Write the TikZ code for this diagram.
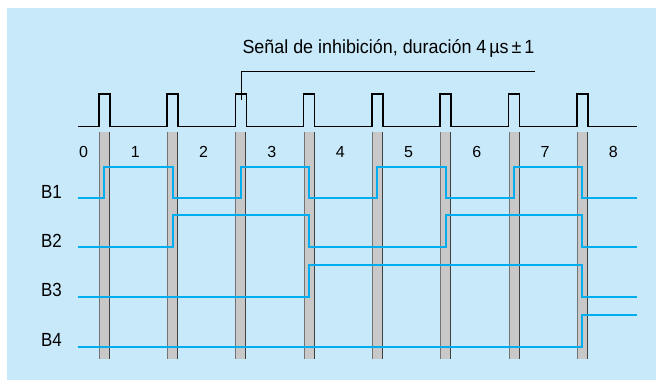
\documentclass[tikz,border=0pt]{standalone}
\usepackage{fontspec}
\setmainfont{Liberation Sans}
\definecolor{bgblue}{HTML}{C7E9F9}
\definecolor{sigblue}{HTML}{00AEEF}
\definecolor{bargray}{HTML}{C8C8C8}
\newcommand{\narrow}[1]{\scalebox{0.89}[1]{#1}}
\begin{document}
\begin{tikzpicture}[x=1pt,y=-1pt,
  sig/.style={sigblue,line width=2pt},
  lbl/.style={font=\fontsize{16}{18}\selectfont,inner sep=0pt},
  bit/.style={font=\fontsize{19}{21}\selectfont,inner sep=0pt,anchor=base east}]
  \useasboundingbox (0,0) rectangle (656,380);
  \fill[bgblue] (7,8) rectangle (656,380);
  % guard bars under each pulse
  \foreach \k in {1,...,8} {
    \fill[bargray] ({30.4+68.3*\k},131.7) rectangle ++(11,227.3);
    \draw[black!55,line width=1pt] ({30.9+68.3*\k},131.7) -- ++(0,227.3);
    \draw[black!75,line width=1pt] ({40.9+68.3*\k},131.7) -- ++(0,227.3);
  }
  % clock
  \draw[line width=1.6pt] (77.7,126.3)
    \foreach \k in {1,...,8} { -- ({30.4+68.3*\k},126.3) -- ++(0,-32.3) -- ++(11,0) -- ++(0,32.3) }
    -- (636.5,126.3);
  \node[lbl,anchor=base west,font=\fontsize{19}{21}\selectfont] (ttl) at (242.3,53.5)
    {\resizebox{292pt}{\height}{Señal de inhibición, duración 4\,µs\,±\,1}};
  \coordinate (tip) at (241.3,100);
  \coordinate (leadend) at (535,71.7);
  \draw[line width=1pt] (tip) |- (leadend);
  % interval numbers
  \node[lbl,anchor=base] (n0) at (83.5,157.3) {0};
  \foreach \k in {1,...,8}
    \node[lbl,anchor=base] (n\k) at ({67+68.3*\k},157.3) {\k};
  % counter bits
  \draw[sig] (77.7,198.3) -| (104.2,166.8) -| (172.5,198.3) -| (240.8,166.8) -| (309.1,198.3)
    -| (377.4,166.8) -| (445.7,198.3) -| (514.0,166.8) -| (582.3,198.3) -- (636.5,198.3);
  \draw[sig] (77.7,247.3) -| (172.5,215) -| (309.1,247.3) -| (445.7,215) -| (582.3,247.3) -- (636.5,247.3);
  \draw[sig] (77.7,296.7) -| (309.1,264.5) -| (582.3,296.7) -- (636.5,296.7);
  \draw[sig] (77.7,346.5) -| (582.3,314.5) -- (636.5,314.5);
  \node[bit] (b1) at (62,198.3) {\narrow{B1}};
  \node[bit] (b2) at (62,247.3) {\narrow{B2}};
  \node[bit] (b3) at (62,296.7) {\narrow{B3}};
  \node[bit] (b4) at (62,346.5) {\narrow{B4}};
\end{tikzpicture}
\end{document}
